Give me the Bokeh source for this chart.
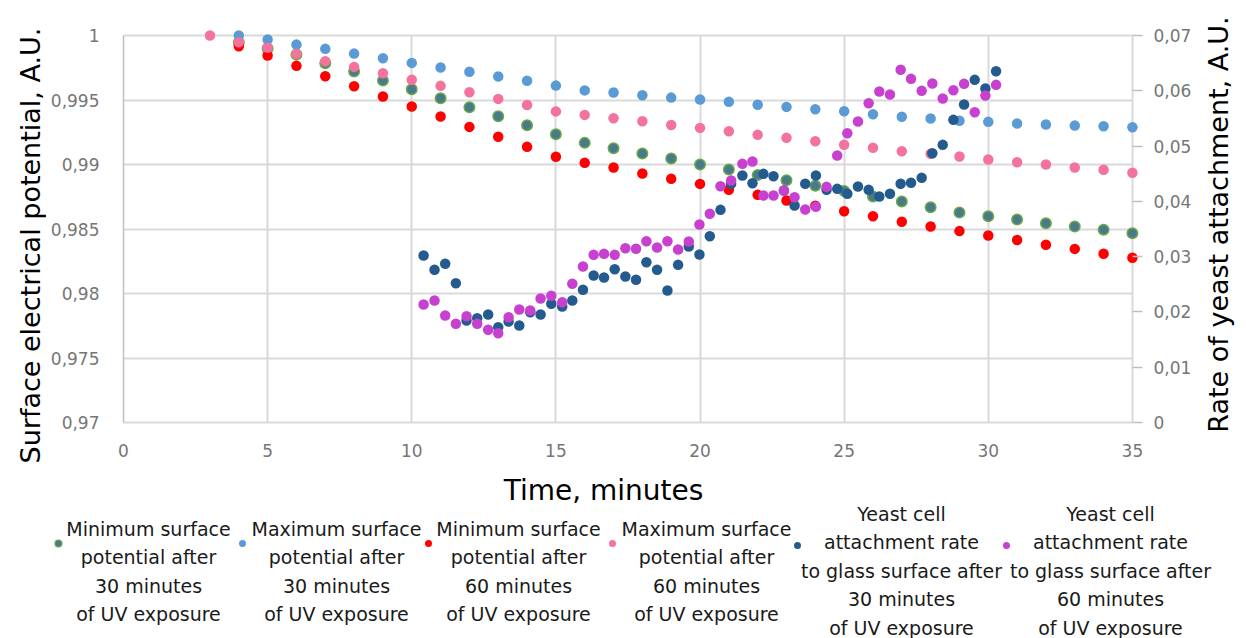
import math
from bokeh.plotting import figure
from bokeh.models import Range1d, LinearAxis, FixedTicker
from bokeh.layouts import column, row
from bokeh.embed import file_html
from bokeh.resources import INLINE
from bokeh.core.properties import value

# ---------------- data ----------------
time_surface = list(range(4, 36))          # minutes 4..35
time_max60 = list(range(3, 36))            # minutes 3..35

min30 = [0.99946, 0.99899, 0.99853, 0.99785, 0.99721, 0.99651, 0.99584, 0.99514,
         0.99444, 0.99374, 0.99305, 0.99235, 0.99168, 0.99126, 0.99085, 0.99047,
         0.99000, 0.98961, 0.98919, 0.98878, 0.98835, 0.98795, 0.98752, 0.98713,
         0.98669, 0.98628, 0.98599, 0.98574, 0.98545, 0.98519, 0.98494, 0.98467]

max30 = [1.00000, 0.99969, 0.99930, 0.99897, 0.99860, 0.99824, 0.99788, 0.99752,
         0.99719, 0.99682, 0.99649, 0.99612, 0.99575, 0.99558, 0.99537, 0.99519,
         0.99504, 0.99486, 0.99463, 0.99447, 0.99429, 0.99413, 0.99390, 0.99370,
         0.99357, 0.99339, 0.99331, 0.99318, 0.99310, 0.99302, 0.99297, 0.99289]

min60 = [0.99917, 0.99845, 0.99765, 0.99684, 0.99607, 0.99527, 0.99450, 0.99372,
         0.99292, 0.99215, 0.99137, 0.99060, 0.99013, 0.98977, 0.98930, 0.98889,
         0.98850, 0.98804, 0.98765, 0.98721, 0.98680, 0.98638, 0.98599, 0.98556,
         0.98519, 0.98484, 0.98450, 0.98415, 0.98378, 0.98346, 0.98308, 0.98277]

max60 = [1.00000, 0.99948, 0.99905, 0.99858, 0.99801, 0.99757, 0.99708, 0.99657,
         0.99610, 0.99560, 0.99509, 0.99462, 0.99412, 0.99385, 0.99359, 0.99336,
         0.99307, 0.99284, 0.99258, 0.99230, 0.99207, 0.99181, 0.99153, 0.99130,
         0.99103, 0.99083, 0.99062, 0.99039, 0.99018, 0.99000, 0.98977, 0.98959,
         0.98936]

time_yeast = [10.41, 10.79, 11.16, 11.53, 11.90, 12.27, 12.65, 13.00, 13.36, 13.73,
              14.11, 14.47, 14.84, 15.22, 15.57, 15.94, 16.31, 16.67, 17.04, 17.41,
              17.78, 18.14, 18.51, 18.87, 19.24, 19.61, 19.98, 20.34, 20.71, 21.08,
              21.47, 21.82, 22.20, 22.55, 22.91, 23.28, 23.65, 24.02, 24.39, 24.76,
              25.11, 25.48, 25.85, 26.22, 26.59, 26.96, 27.32, 27.69, 28.06, 28.42,
              28.79, 29.16, 29.53, 29.90, 30.27]

yeast30 = [0.03021, 0.02762, 0.02871, 0.02520, 0.01845, 0.01887, 0.01953, 0.01724,
           0.01827, 0.01755, 0.01995, 0.01953, 0.02147, 0.02098, 0.02207, 0.02400,
           0.02659, 0.02623, 0.02773, 0.02641, 0.02581, 0.02899, 0.02762, 0.02388,
           0.02852, 0.03183, 0.03039, 0.03370, 0.03847, 0.04318, 0.04468, 0.04328,
           0.04498, 0.04455, 0.04196, 0.03925, 0.04318, 0.04468, 0.04209, 0.04227,
           0.04137, 0.04269, 0.04209, 0.04088, 0.04137, 0.04318, 0.04336, 0.04426,
           0.04871, 0.05023, 0.05475, 0.05752, 0.06199, 0.06041, 0.06354]

yeast60 = [0.02134, 0.02207, 0.01935, 0.01785, 0.01923, 0.01785, 0.01677, 0.01615,
           0.01905, 0.02044, 0.02026, 0.02243, 0.02292, 0.02176, 0.02509, 0.02822,
           0.03033, 0.03051, 0.03033, 0.03153, 0.03142, 0.03279, 0.03165, 0.03279,
           0.03129, 0.03274, 0.03581, 0.03775, 0.04274, 0.04377, 0.04679, 0.04721,
           0.04106, 0.04106, 0.04196, 0.04075, 0.03853, 0.03902, 0.04263, 0.04829,
           0.05233, 0.05444, 0.05775, 0.05987, 0.05933, 0.06380, 0.06217, 0.06000,
           0.06132, 0.05860, 0.06011, 0.06126, 0.05613, 0.05915, 0.06108]

x_ticks = [0, 5, 10, 15, 20, 25, 30, 35]
x_tick_labels = ["0", "5", "10", "15", "20", "25", "30", "35"]
y_ticks = [0.97, 0.975, 0.98, 0.985, 0.99, 0.995, 1.0]
y_tick_labels = ["0,97", "0,975", "0,98", "0,985", "0,99", "0,995", "1"]
r_ticks = [0.0, 0.01, 0.02, 0.03, 0.04, 0.05, 0.06, 0.07]
r_tick_labels = ["0", "0,01", "0,02", "0,03", "0,04", "0,05", "0,06", "0,07"]

x_title = "Time, minutes"
y_title = "Surface electrical potential, A.U."
r_title = "Rate of yeast attachment, A.U."

legend_labels = [
    ["Minimum surface", "potential after", "30 minutes", "of UV exposure"],
    ["Maximum surface", "potential after", "30 minutes", "of UV exposure"],
    ["Minimum surface", "potential after", "60 minutes", "of UV exposure"],
    ["Maximum surface", "potential after", "60 minutes", "of UV exposure"],
    ["Yeast cell", "attachment rate", "to glass surface after", "30 minutes", "of UV exposure"],
    ["Yeast cell", "attachment rate", "to glass surface after", "60 minutes", "of UV exposure"],
]

# ---------------- styles / layout (pixel positions) ----------------
FONT = "DejaVu Sans"
C_MIN30, C_MIN30_EDGE = "#4a7a8a", "#6aab47"
C_MAX30 = "#5b9bd5"
C_MIN60 = "#ff0000"
C_MAX60 = "#f3739c"
C_Y30 = "#245b8e"
C_Y60 = "#c840d0"
GRID = "#d9d9d9"
AXIS = "#bfbfbf"
TICK_TXT = "#767676"

TOTAL_W, TOTAL_H = 1246, 638
TOP_H = 470                 # height of the row holding the plot
LT_W, RT_W = 46, 50         # side strips carrying the rotated axis titles
MAIN_W = TOTAL_W - LT_W - RT_W
FRAME_L, FRAME_R = 123, 1142
FRAME_T, FRAME_B = 25, 422

Y0, Y1 = 0.97, 1.0
Y_END = 1.00078
R0, R1 = 0.0, 0.07
R_END = R1 * (Y_END - Y0) / (Y1 - Y0)
X0, X1 = 0, 35
X_END = 35.35


def no_align(fig):
    if "frame_align" in fig.properties():
        fig.frame_align = False


p = figure(width=MAIN_W, height=TOP_H, title=None,
           x_range=Range1d(X0, X_END), y_range=Range1d(Y0, Y_END),
           output_backend="svg", toolbar_location=None,
           min_border_left=FRAME_L - LT_W, min_border_right=LT_W + MAIN_W - FRAME_R,
           min_border_top=FRAME_T, min_border_bottom=TOP_H - FRAME_B)
no_align(p)
p.outline_line_color = None
p.extra_y_ranges = {"rate": Range1d(R0, R_END)}


def style_labels(ax):
    ax.major_label_text_font = FONT
    ax.major_label_text_font_size = "17px"
    ax.major_label_text_color = TICK_TXT
    ax.minor_tick_line_color = None


xa = p.xaxis[0]
xa.ticker = FixedTicker(ticks=x_ticks)
xa.major_label_overrides = {t: l for t, l in zip(x_ticks, x_tick_labels)}
xa.bounds = (X0, X1)
xa.axis_line_color = GRID
xa.axis_line_width = 2
xa.major_tick_line_color = None
xa.major_label_standoff = 15
style_labels(xa)

ya = p.yaxis[0]
ya.ticker = FixedTicker(ticks=y_ticks)
ya.major_label_overrides = {t: l for t, l in zip(y_ticks, y_tick_labels)}
ya.bounds = (Y0, Y1)
ya.axis_line_color = AXIS
ya.axis_line_width = 1.5
ya.major_tick_line_color = None
ya.major_label_standoff = 18
style_labels(ya)

ra = LinearAxis(y_range_name="rate", ticker=FixedTicker(ticks=r_ticks))
ra.major_label_overrides = {t: l for t, l in zip(r_ticks, r_tick_labels)}
ra.bounds = (R0, R1)
ra.axis_line_color = None
ra.major_tick_line_color = AXIS
ra.major_tick_line_width = 1.5
ra.major_tick_in = 10
ra.major_tick_out = 0
ra.major_label_standoff = 11
style_labels(ra)
p.add_layout(ra, "right")

for g in p.xgrid:
    g.ticker = FixedTicker(ticks=x_ticks)
    g.grid_line_color = GRID
    g.grid_line_width = 2
    if "cross_bounds" in g.properties():
        g.cross_bounds = (Y0, Y1)
for g in p.ygrid:
    g.ticker = FixedTicker(ticks=y_ticks)
    g.grid_line_color = GRID
    g.grid_line_width = 2
    if "cross_bounds" in g.properties():
        g.cross_bounds = (X0, X1)

MS = 10.5
p.scatter(time_surface, min30, size=MS, fill_color=C_MIN30, line_color=C_MIN30_EDGE, line_width=1.5)
p.scatter(time_surface, max30, size=MS, fill_color=C_MAX30, line_color=None)
p.scatter(time_surface, min60, size=MS, fill_color=C_MIN60, line_color=None)
p.scatter(time_max60, max60, size=MS, fill_color=C_MAX60, line_color=None)
p.scatter(time_yeast, yeast30, size=MS, fill_color=C_Y30, line_color=None, y_range_name="rate")
p.scatter(time_yeast, yeast60, size=MS, fill_color=C_Y60, line_color=None, y_range_name="rate")


def strip(x0, x1, y0, y1):
    """A blank figure whose coordinates are page pixels (y downwards)."""
    f = figure(width=x1 - x0, height=y1 - y0, title=None,
               x_range=Range1d(x0, x1), y_range=Range1d(y1, y0),
               x_axis_location=None, y_axis_location=None,
               output_backend="svg", toolbar_location=None, min_border=0)
    no_align(f)
    f.grid.visible = False
    f.outline_line_color = None
    return f


# rotated axis titles
lt = strip(0, LT_W, 0, TOP_H)
lt.text(x=[30], y=[245], text=[y_title], angle=math.pi / 2, text_font=value(FONT),
        text_font_size="27px", text_align="center", text_baseline="middle", text_color="#000000")
rt = strip(LT_W + MAIN_W, TOTAL_W, 0, TOP_H)
rt.text(x=[1218], y=[224], text=[r_title], angle=math.pi / 2, text_font=value(FONT),
        text_font_size="27px", text_align="center", text_baseline="middle", text_color="#000000")

# x title + legend
lg = strip(0, TOTAL_W, TOP_H, TOTAL_H)
lg.text(x=[603], y=[490], text=[x_title], text_font=value(FONT), text_font_size="28px",
        text_align="center", text_baseline="middle", text_color="#000000")

text_cx = [148, 336, 518, 706, 901, 1110]
dot_cx = [58, 242, 428, 612, 797, 1006]
first_line_y = {4: 528, 5: 513}
line_gap = 28.5
dot_y = {4: 543, 5: 545}
leg_fill = [C_MIN30, C_MAX30, C_MIN60, C_MAX60, C_Y30, C_Y60]
leg_edge = [C_MIN30_EDGE, None, None, None, None, None]

tx, ty, tt = [], [], []
for cx, lines in zip(text_cx, legend_labels):
    n = len(lines)
    for i, s in enumerate(lines):
        tx.append(cx)
        ty.append(first_line_y[n] + i * line_gap)
        tt.append(s)
lg.text(x=tx, y=ty, text=tt, text_font=value(FONT), text_font_size="19px",
        text_align="center", text_baseline="middle", text_color="#1a1a1a")
for dx, fc, ec, lines in zip(dot_cx, leg_fill, leg_edge, legend_labels):
    lg.scatter([dx], [dot_y[len(lines)]], size=7, fill_color=fc,
               line_color=ec, line_width=1.2 if ec else 0)

layout = column(row(lt, p, rt, spacing=0), lg, spacing=0)
open("out.html", "w").write(file_html(layout, INLINE))
